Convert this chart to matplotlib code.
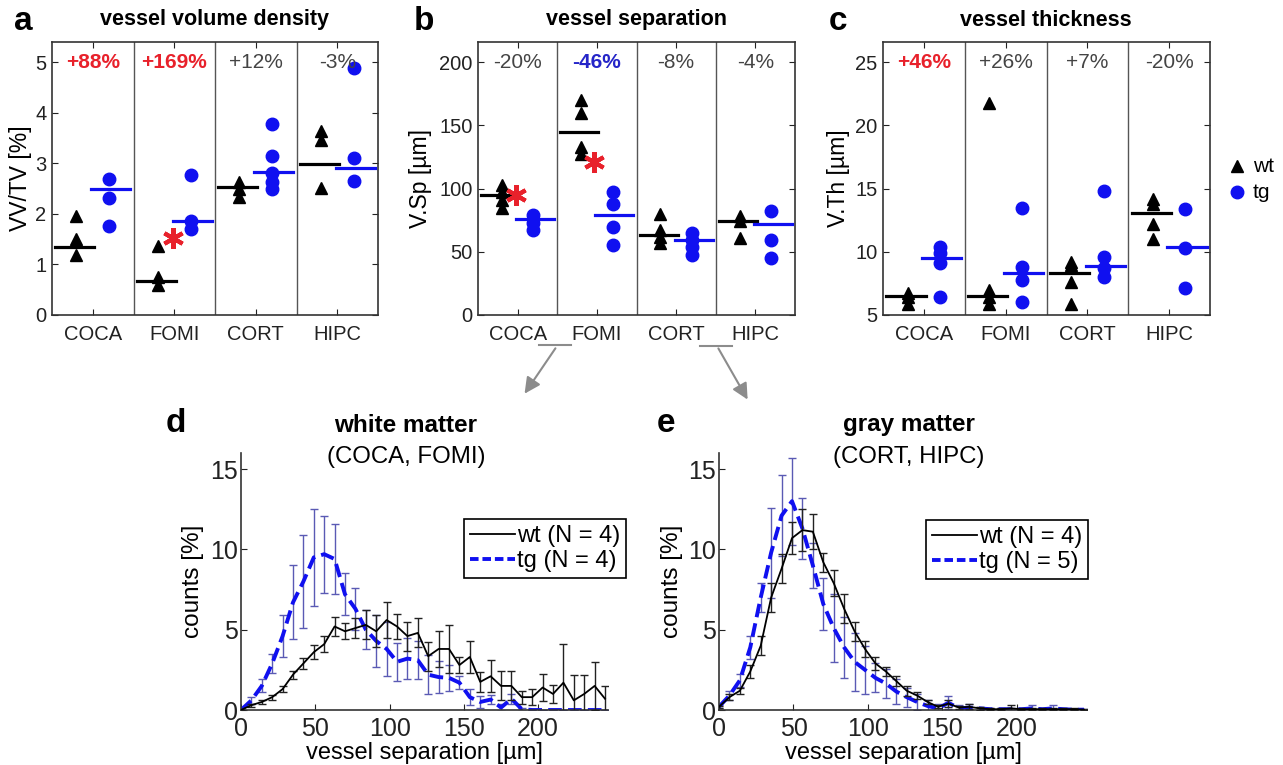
import numpy as np
import matplotlib

matplotlib.use("Agg")
import matplotlib.pyplot as plt  # noqa: E402
from matplotlib.lines import Line2D  # noqa: E402
from matplotlib.patches import FancyArrowPatch  # noqa: E402

plt.rcParams['font.family'] = ['Liberation Sans', 'DejaVu Sans']

W, H = 1283, 765
BLUE = "#1010f0"
RED = "#e8212b"
GRAY_TXT = "#444444"

REGIONS = ["COCA", "FOMI", "CORT", "HIPC"]

# ---- panel a: vessel volume density VV/TV [%]
vv_wt = [[1.95, 1.50, 1.19], [1.37, 0.76, 0.60], [2.64, 2.50, 2.34], [3.63, 3.46, 2.52]]
vv_tg = [[2.69, 2.32, 1.76], [2.76, 1.85, 1.70], [3.78, 3.15, 2.80, 2.64, 2.50], [4.88, 3.11, 2.66]]
vv_wt_mean = [1.34, 0.68, 2.53, 2.99]
vv_tg_mean = [2.50, 1.85, 2.82, 2.90]
vv_change = ["+88%", "+169%", "+12%", "-3%"]
vv_signif = ["up", "up", None, None]
vv_star_x = [1.98]
vv_star_y = [1.52]

# ---- panel b: vessel separation V.Sp [um]
sp_wt = [[103, 97.6, 91, 85], [170, 160, 133, 127], [80, 67, 62, 57], [78, 74, 60.7]]
sp_tg = [[79, 73, 67], [97.6, 88, 70, 55], [65, 59, 54, 47.5], [82.6, 59, 45]]
sp_wt_mean = [95, 145, 63, 74.4]
sp_tg_mean = [76, 79, 59, 71.8]
sp_change = ["-20%", "-46%", "-8%", "-4%"]
sp_signif = [None, "down", None, None]
sp_star_x = [0.98, 1.96]
sp_star_y = [95, 121]

# ---- panel c: vessel thickness V.Th [um]
th_wt = [[6.77, 6.45, 5.87], [21.8, 7.0, 6.45, 5.9], [9.2, 8.96, 7.64, 5.9], [14.2, 13.8, 12.2, 11.0]]
th_tg = [[10.4, 9.9, 9.1, 6.45], [13.5, 8.8, 7.8, 6.0], [14.8, 9.6, 8.7, 8.0], [13.4, 10.3, 7.1]]
th_wt_mean = [6.5, 6.53, 8.3, 13.05]
th_tg_mean = [9.5, 8.3, 8.9, 10.36]
th_change = ["+46%", "+26%", "+7%", "-20%"]
th_signif = ["up", None, None, None]

# ---- panels d/e: histograms of vessel separation [um], bins of 7 um
sep_bins = np.arange(0, 246, 7)

wm_wt = [0.0, 0.3, 0.5, 0.8, 1.3, 2.2, 2.9, 3.6, 4.1, 5.2,
         4.9, 5.1, 5.3, 4.9, 5.6, 5.2, 4.6, 4.8, 3.35, 3.8,
         3.8, 2.8, 3.3, 1.75, 2.1, 1.5, 1.5, 0.8, 0.8, 1.4,
         1.0, 1.7, 0.6, 1.0, 1.5, 0.7]
wm_wt_err = [0.0, 0.1, 0.1, 0.15, 0.2, 0.25, 0.35, 0.45, 0.5, 0.6,
             0.5, 0.6, 0.9, 1.0, 1.1, 0.8, 0.9, 0.9, 0.9, 1.1,
             1.5, 0.5, 1.0, 0.6, 1.0, 0.9, 0.9, 0.4, 0.5, 0.85,
             0.55, 2.4, 1.55, 1.2, 1.5, 0.8]
wm_tg = [0.0, 0.6, 1.5, 2.9, 4.6, 6.7, 8.0, 9.5, 9.7, 9.4,
         7.2, 6.3, 5.0, 4.3, 3.8, 3.0, 3.2, 3.1, 2.2, 2.05,
         2.0, 1.7, 0.8, 0.5, 0.65, 0.15, 0.7, 0.05, 0.0, 0.0,
         0.0, 0.0, 0.0, 0.0, 0.0, 0.0]
wm_tg_err = [0.0, 0.2, 0.4, 0.6, 1.3, 2.3, 2.9, 3.0, 2.4, 2.2,
             1.3, 1.3, 1.2, 1.6, 1.7, 1.2, 1.3, 1.2, 1.2, 1.0,
             0.8, 0.4, 0.5, 0.4, 0.3, 0.2, 0.3, 0.1, 0.0, 0.0,
             0.0, 0.0, 0.0, 0.0, 0.0, 0.0]

gm_wt = [0.2, 0.8, 1.2, 2.4, 4.0, 7.0, 8.8, 10.7, 11.2, 11.1,
         9.2, 7.9, 6.3, 4.9, 3.8, 2.9, 2.4, 1.8, 1.2, 0.9,
         0.5, 0.2, 0.4, 0.15, 0.2, 0.1, 0.05, 0.05, 0.1, 0.05,
         0.05, 0.05, 0.05, 0.05, 0.05, 0.02]
gm_wt_err = [0.05, 0.2, 0.2, 0.4, 0.6, 0.9, 0.9, 1.0, 1.3, 1.1,
             0.6, 0.8, 0.9, 0.6, 0.5, 0.4, 0.3, 0.3, 0.3, 0.2,
             0.1, 0.1, 0.2, 0.1, 0.15, 0.1, 0.05, 0.05, 0.2, 0.05,
             0.05, 0.05, 0.05, 0.05, 0.05, 0.05]
gm_tg = [0.2, 0.9, 1.85, 3.9, 7.0, 9.8, 12.1, 13.0, 11.3, 9.0,
         6.6, 5.1, 3.9, 3.0, 2.5, 2.0, 1.65, 1.15, 0.8, 0.5,
         0.25, 0.1, 0.45, 0.1, 0.15, 0.1, 0.05, 0.05, 0.05, 0.05,
         0.1, 0.05, 0.1, 0.05, 0.02, 0.02]
gm_tg_err = [0.1, 0.3, 0.4, 0.7, 0.9, 2.8, 2.5, 2.7, 1.9, 1.4,
             1.6, 2.1, 1.9, 1.8, 1.5, 0.9, 0.9, 0.8, 0.6, 0.5,
             0.4, 0.3, 0.4, 0.2, 0.2, 0.1, 0.1, 0.1, 0.1, 0.1,
             0.2, 0.1, 0.2, 0.1, 0.05, 0.05]


def fx(px):
    return px / W


def fy(py):
    return 1 - py / H


def box(l, t, r, b):
    return [fx(l), fy(b), (r - l) / W, (b - t) / H]


def group_panel(ax, wt, tg, wt_mean, tg_mean, changes, signif, ylim, yticks, ylabel, lab_x,
                star_x=(), star_y=()):
    for i in range(4):
        c = i + 1
        ax.plot([c - 0.2] * len(wt[i]), wt[i], "^", color="k", ms=9, zorder=3)
        ax.plot([c + 0.2] * len(tg[i]), tg[i], "o", color=BLUE, mec=BLUE, ms=9, zorder=3)
        ax.plot([c - 0.46, c + 0.02], [wt_mean[i]] * 2, color="k", lw=2.3, zorder=4)
        ax.plot([c - 0.02, c + 0.46], [tg_mean[i]] * 2, color=BLUE, lw=2.3, zorder=4)
        if signif[i] == "up":
            kw = dict(color=RED, fontweight="bold")
        elif signif[i] == "down":
            kw = dict(color="#2525c8", fontweight="bold")
        else:
            kw = dict(color=GRAY_TXT)
        ax.text(c, 0.925, changes[i], transform=ax.get_xaxis_transform(),
                ha="center", va="center", fontsize=15, **kw)
    for s in (1.5, 2.5, 3.5):
        ax.axvline(s, color="#555555", lw=1.0)
    if len(star_x):
        ax.plot(star_x, star_y, marker=(6, 2, 0), ls="none", color=RED, ms=15, mew=3, zorder=5)
    ax.set_xlim(0.5, 4.5)
    ax.set_ylim(*ylim)
    ax.set_yticks(yticks)
    ax.set_xticks([1, 2, 3, 4])
    ax.set_xticklabels(REGIONS)
    ax.tick_params(direction="in", labelsize=14.5, length=4, top=True, right=True,
                   pad=4, colors="#222222")
    ax.tick_params(axis="x", pad=7)
    for sp in ax.spines.values():
        sp.set_linewidth(1.2)
        sp.set_color("#333333")
    ax.set_ylabel(ylabel, fontsize=16.5)
    ax.yaxis.set_label_coords(lab_x, 0.5)


def hist_panel(ax, wt, wt_err, tg, tg_err, n_wt, n_tg, legend_px, lab_x):
    ax.errorbar(sep_bins, wt, yerr=wt_err, color="k", lw=1.3, elinewidth=1.0,
                ecolor="#222222", capsize=3, capthick=1.0, zorder=3)
    ax.errorbar(sep_bins, tg, yerr=tg_err, color=BLUE, lw=2.8, ls="--", dashes=(3.5, 1.6),
                elinewidth=1.0, ecolor="#5a5ab4", capsize=3, capthick=1.0, zorder=2)
    ax.set_xlim(0, 247)
    ax.set_ylim(0, 16)
    ax.set_xticks([0, 50, 100, 150, 200])
    ax.set_yticks([0, 5, 10, 15])
    ax.spines["top"].set_visible(False)
    ax.spines["right"].set_visible(False)
    for sp in ("left", "bottom"):
        ax.spines[sp].set_linewidth(1.2)
        ax.spines[sp].set_color("#333333")
    ax.tick_params(direction="in", labelsize=18, length=4, pad=2, colors="#222222")
    ax.tick_params(axis="x", pad=5)
    ax.set_xlabel("vessel separation [\u00b5m]", fontsize=17)
    ax.xaxis.set_label_coords(0.5, -0.125)
    ax.set_ylabel("counts [%]", fontsize=17.5)
    ax.yaxis.set_label_coords(lab_x, 0.5)
    handles = [Line2D([], [], color="k", lw=1.3),
               Line2D([], [], color=BLUE, lw=2.8, ls="--", dashes=(2.2, 1.0))]
    leg = ax.legend(handles, [f"wt (N = {n_wt})", f"tg (N = {n_tg})"],
                    loc="upper left", bbox_to_anchor=(fx(legend_px[0]), fy(legend_px[1])),
                    bbox_transform=ax.figure.transFigure, borderaxespad=0, fontsize=17,
                    handlelength=1.9, handletextpad=0.1, fancybox=False, framealpha=1,
                    borderpad=0.25, labelspacing=0.15)
    leg.get_frame().set_edgecolor("k")
    leg.get_frame().set_linewidth(1.2)


fig = plt.figure(figsize=(W / 100, H / 100), dpi=100, facecolor="white")

ax_a = fig.add_axes(box(52, 42, 378, 315))
group_panel(ax_a, vv_wt, vv_tg, vv_wt_mean, vv_tg_mean, vv_change, vv_signif,
            (0, 5.4), [0, 1, 2, 3, 4, 5], "VV/TV [%]", -0.061, vv_star_x, vv_star_y)

ax_b = fig.add_axes(box(478, 42, 795, 315))
group_panel(ax_b, sp_wt, sp_tg, sp_wt_mean, sp_tg_mean, sp_change, sp_signif,
            (0, 216), [0, 50, 100, 150, 200], "V.Sp [\u00b5m]", -0.145, sp_star_x, sp_star_y)

ax_c = fig.add_axes(box(883, 42, 1210, 315))
group_panel(ax_c, th_wt, th_tg, th_wt_mean, th_tg_mean, th_change, th_signif,
            (5, 26.6), [5, 10, 15, 20, 25], "V.Th [\u00b5m]", -0.10)

ax_d = fig.add_axes(box(241, 453, 608, 710))
hist_panel(ax_d, wm_wt, wm_wt_err, wm_tg, wm_tg_err, 4, 4, (464, 519), -0.10)

ax_e = fig.add_axes(box(719, 453, 1087, 710))
hist_panel(ax_e, gm_wt, gm_wt_err, gm_tg, gm_tg_err, 4, 5, (926, 520), -0.098)

# titles and panel letters
for x, y, s in [(215, 20, "vessel volume density"), (636, 20, "vessel separation"),
                (1046, 20, "vessel thickness")]:
    fig.text(fx(x), fy(y), s, ha="center", va="center", fontsize=15.5, fontweight="bold")
for x, y, s in [(406, 425, "white matter"), (909, 425, "gray matter")]:
    fig.text(fx(x), fy(y), s, ha="center", va="center", fontsize=17.5, fontweight="bold")
fig.text(fx(406), fy(457), "(COCA, FOMI)", ha="center", va="center", fontsize=17.3)
fig.text(fx(909), fy(457), "(CORT, HIPC)", ha="center", va="center", fontsize=17.3)
for x, y, s in [(23, 22, "a"), (424, 22, "b"), (838, 22, "c"), (176, 423, "d"), (666, 423, "e")]:
    fig.text(fx(x), fy(y), s, ha="center", va="center", fontsize=24, fontweight="bold")

# group legend for a-c
fig.add_artist(Line2D([fx(1237)], [fy(166)], marker="^", color="k", ls="none", ms=9))
fig.add_artist(Line2D([fx(1237)], [fy(192)], marker="o", color=BLUE, ls="none", ms=9))
fig.text(fx(1253), fy(166), "wt", ha="left", va="center", fontsize=15)
fig.text(fx(1253), fy(192), "tg", ha="left", va="center", fontsize=15)

# brackets + arrows linking b to d/e
ARROW = "#8c8c8c"
fig.add_artist(Line2D([fx(539), fx(571)], [fy(345), fy(345)], color=ARROW, lw=1.5))
fig.add_artist(Line2D([fx(700), fx(732)], [fy(346), fy(346)], color=ARROW, lw=1.5))
for start, end in [((557, 346), (523, 396)), ((717, 346), (749, 402))]:
    fig.add_artist(FancyArrowPatch((fx(start[0]), fy(start[1])), (fx(end[0]), fy(end[1])),
                                   transform=fig.transFigure, arrowstyle="-|>",
                                   mutation_scale=24, color=ARROW, lw=1.5))

fig.savefig("out.png", dpi=100, facecolor="white")
